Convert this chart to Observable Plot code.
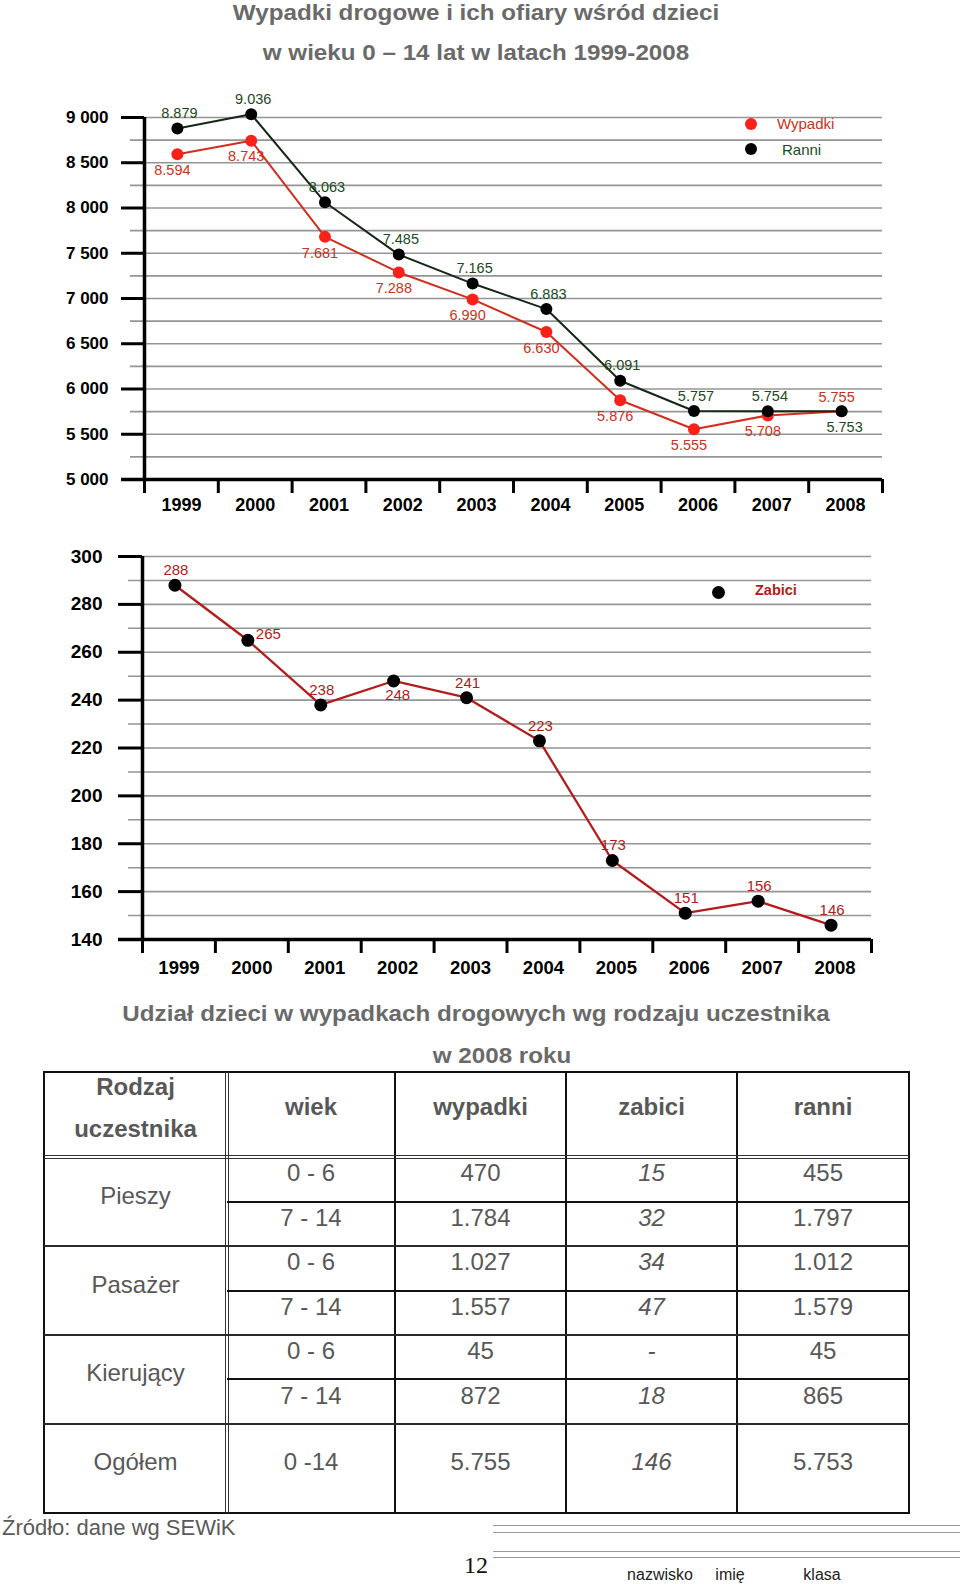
<!DOCTYPE html>
<html><head><meta charset="utf-8">
<script src="https://cdn.jsdelivr.net/npm/d3@7"></script>
<script src="https://cdn.jsdelivr.net/npm/@observablehq/plot@0.6"></script>
<style>
html,body{margin:0;padding:0;background:#fff;}
#page{position:relative;width:960px;height:1584px;overflow:hidden;font-family:"Liberation Sans",Arial,sans-serif;}
.abs{position:absolute;white-space:nowrap;}
.ln{position:absolute;}
</style></head><body><div id="page"></div>
<script>
// ---------- DATA ----------
const titleLines = ["Wypadki drogowe i ich ofiary wśród dzieci", "w wieku 0 – 14 lat w latach 1999-2008"];
const years = [1999, 2000, 2001, 2002, 2003, 2004, 2005, 2006, 2007, 2008];
const wypadki = [8594, 8743, 7681, 7288, 6990, 6630, 5876, 5555, 5708, 5755];
const ranni = [8879, 9036, 8063, 7485, 7165, 6883, 6091, 5757, 5754, 5753];
const zabici = [288, 265, 238, 248, 241, 223, 173, 151, 156, 146];
const seriesNames1 = ["Wypadki", "Ranni"];
const seriesName2 = "Zabici";
const yTicks1 = [5000, 5500, 6000, 6500, 7000, 7500, 8000, 8500, 9000];
const yTickLabels1 = ["5 000", "5 500", "6 000", "6 500", "7 000", "7 500", "8 000", "8 500", "9 000"];
const yTicks2 = [140, 160, 180, 200, 220, 240, 260, 280, 300];
const yTickLabels2 = ["140", "160", "180", "200", "220", "240", "260", "280", "300"];

const tableTitleLines = ["Udział dzieci w wypadkach drogowych wg rodzaju uczestnika", "w 2008 roku"];
const tableHeader = [["Rodzaj", "uczestnika"], ["wiek"], ["wypadki"], ["zabici"], ["ranni"]];
const participants = ["Pieszy", "Pasażer", "Kierujący"];
const ageGroups = ["0 - 6", "7 - 14", "0 - 6", "7 - 14", "0 - 6", "7 - 14"];
const tWypadki = ["470", "1.784", "1.027", "1.557", "45", "872"];
const tZabici = ["15", "32", "34", "47", "-", "18"];
const tRanni = ["455", "1.797", "1.012", "1.579", "45", "865"];
const totalRow = ["Ogółem", "0 -14", "5.755", "146", "5.753"];
const sourceText = "Źródło: dane wg SEWiK";
const pageNumber = "12";
const formLabels = ["nazwisko", "imię", "klasa"];

// label placement (style)
const ranniLabelBelow = [2008];
const wypadkiLabelAbove = [2008];
const zabiciLabelBelow = [2002];
const zabiciLabelRight = [2000];

// ---------- HELPERS ----------
const page = document.getElementById("page");
function txt(s, cx, cy, o = {}) {
  const {size = 16, weight = "normal", color = "#000", style = "normal", family = null, align = "center", sx = 1} = o;
  const d = document.createElement("div");
  d.className = "abs"; d.textContent = s;
  Object.assign(d.style, {left: cx + "px", top: cy + "px", fontSize: size + "px", lineHeight: (size + 2) + "px",
    fontWeight: weight, color, fontStyle: style});
  if (family) d.style.fontFamily = family;
  d.style.transformOrigin = align === "center" ? "center" : "left center";
  d.style.transform = `translate(${align === "center" ? "-50%" : "0"},-50%) scaleX(${sx})`;
  page.appendChild(d);
}
function hline(x1, x2, y, w, c) {
  const d = document.createElement("div"); d.className = "ln";
  Object.assign(d.style, {left: x1 + "px", top: (y - w / 2) + "px", width: (x2 - x1) + "px", height: w + "px", background: c});
  page.appendChild(d);
}
function vline(x, y1, y2, w, c) {
  const d = document.createElement("div"); d.className = "ln";
  Object.assign(d.style, {left: (x - w / 2) + "px", top: y1 + "px", width: w + "px", height: (y2 - y1) + "px", background: c});
  page.appendChild(d);
}
function dotDiv(cx, cy, r, c) {
  const d = document.createElement("div"); d.className = "ln";
  Object.assign(d.style, {left: (cx - r) + "px", top: (cy - r) + "px", width: 2 * r + "px", height: 2 * r + "px", borderRadius: "50%", background: c});
  page.appendChild(d);
}
function place(el, left, top) {
  el.style.position = "absolute"; el.style.left = left + "px"; el.style.top = top + "px";
  page.appendChild(el);
}

// ---------- TITLE ----------
txt(titleLines[0], 476, 13, {size: 22, weight: "bold", color: "#6a6a6a", sx: 1.1});
txt(titleLines[1], 476, 53, {size: 22, weight: "bold", color: "#6a6a6a", sx: 1.1});

// ---------- CHART 1 ----------
const rows1 = years.map((year, i) => ({year, wypadki: wypadki[i], ranni: ranni[i]}));
const fmtK = v => (v / 1000).toFixed(3);
const lab1 = new Map(yTicks1.map((t, i) => [t, yTickLabels1[i]]));
const bounds = d3.range(1998.5, 2009, 1);
const C_W_LINE = "#d22e1e", C_W_DOT = "#fb2119", C_W_TXT = "#c93220";
const C_R_LINE = "#142814", C_R_TXT = "#1c4a22";
const GRID = "#959595";
const DX = -4;

const chart1 = Plot.plot({
  width: 960, height: 440,
  marginTop: 37, marginBottom: 41, marginLeft: 144, marginRight: 78,
  x: {domain: [1998.5, 2008.5], axis: null},
  y: {domain: [5000, 9000], axis: null},
  style: {fontFamily: "'Liberation Sans', Arial, sans-serif", background: "transparent", overflow: "visible"},
  marks: [
    Plot.ruleY(d3.range(5000, 9001, 250), {stroke: GRID, strokeWidth: 1.6, insetLeft: -14}),
    Plot.axisY({ticks: yTicks1, label: null, tickSize: 23, tickPadding: 13, tickFormat: d => lab1.get(d),
      fontSize: 17, fontWeight: "bold", color: "#000", strokeWidth: 3}),
    Plot.ruleY([5000], {stroke: "#000", strokeWidth: 3.5, insetLeft: -23}),
    Plot.ruleX([1998.5], {stroke: "#000", strokeWidth: 3.5}),
    Plot.axisX({ticks: bounds, label: null, tickSize: 14, tickFormat: () => "", color: "#000", strokeWidth: 3}),
    Plot.axisX({ticks: years, label: null, tickSize: 0, tickPadding: 19, tickFormat: d => String(d),
      fontSize: 18, fontWeight: "bold", color: "#000"}),
    Plot.line(rows1, {x: "year", y: "wypadki", stroke: C_W_LINE, strokeWidth: 2, dx: DX}),
    Plot.line(rows1, {x: "year", y: "ranni", stroke: C_R_LINE, strokeWidth: 2, dx: DX}),
    Plot.dot(rows1, {x: "year", y: "wypadki", r: 6, fill: C_W_DOT, dx: DX}),
    Plot.dot(rows1, {x: "year", y: "ranni", r: 6, fill: "#000", dx: DX}),
    Plot.text(rows1.filter(d => !ranniLabelBelow.includes(d.year)), {x: "year", y: "ranni", text: d => fmtK(d.ranni),
      dy: -15, dx: DX + 2, fill: C_R_TXT, fontSize: 14.5}),
    Plot.text(rows1.filter(d => ranniLabelBelow.includes(d.year)), {x: "year", y: "ranni", text: d => fmtK(d.ranni),
      dy: 16, dx: DX + 3, fill: C_R_TXT, fontSize: 14.5}),
    Plot.text(rows1.filter(d => !wypadkiLabelAbove.includes(d.year)), {x: "year", y: "wypadki", text: d => fmtK(d.wypadki),
      dy: 16, dx: DX - 5, fill: C_W_TXT, fontSize: 14.5}),
    Plot.text(rows1.filter(d => wypadkiLabelAbove.includes(d.year)), {x: "year", y: "wypadki", text: d => fmtK(d.wypadki),
      dy: -14, dx: DX - 5, fill: C_W_TXT, fontSize: 14.5})
  ]
});
place(chart1, 0, 80);

// legend chart 1
dotDiv(751, 124, 6, C_W_DOT);
txt(seriesNames1[0], 777, 123, {size: 15, color: C_W_TXT, align: "left"});
dotDiv(751, 149, 6, "#000");
txt(seriesNames1[1], 782, 149, {size: 15, color: C_R_TXT, align: "left"});

// ---------- CHART 2 ----------
const rows2 = years.map((year, i) => ({year, zabici: zabici[i]}));
const C_Z_LINE = "#b41c1c", C_Z_TXT = "#b31a1a";
const chart2 = Plot.plot({
  width: 960, height: 450,
  marginTop: 26, marginBottom: 41, marginLeft: 142, marginRight: 89,
  x: {domain: [1998.5, 2008.5], axis: null},
  y: {domain: [140, 300], axis: null},
  style: {fontFamily: "'Liberation Sans', Arial, sans-serif", background: "transparent", overflow: "visible"},
  marks: [
    Plot.ruleY(d3.range(140, 301, 10), {stroke: GRID, strokeWidth: 1.6, insetLeft: -14}),
    Plot.axisY({ticks: yTicks2, label: null, tickSize: 24, tickPadding: 16, tickFormat: d => yTickLabels2[yTicks2.indexOf(d)],
      fontSize: 19, fontWeight: "bold", color: "#000", strokeWidth: 3}),
    Plot.ruleY([140], {stroke: "#000", strokeWidth: 3.5, insetLeft: -24}),
    Plot.ruleX([1998.5], {stroke: "#000", strokeWidth: 3.5}),
    Plot.axisX({ticks: bounds, label: null, tickSize: 14, tickFormat: () => "", color: "#000", strokeWidth: 3}),
    Plot.axisX({ticks: years, label: null, tickSize: 0, tickPadding: 21, tickFormat: d => String(d),
      fontSize: 18.5, fontWeight: "bold", color: "#000"}),
    Plot.line(rows2, {x: "year", y: "zabici", stroke: C_Z_LINE, strokeWidth: 2.3, dx: DX}),
    Plot.dot(rows2, {x: "year", y: "zabici", r: 6.5, fill: "#000", dx: DX}),
    Plot.text(rows2.filter(d => !zabiciLabelBelow.includes(d.year) && !zabiciLabelRight.includes(d.year)),
      {x: "year", y: "zabici", text: d => String(d.zabici), dy: -15, dx: DX + 1, fill: C_Z_TXT, fontSize: 15}),
    Plot.text(rows2.filter(d => zabiciLabelBelow.includes(d.year)),
      {x: "year", y: "zabici", text: d => String(d.zabici), dy: 14, dx: DX + 4, fill: C_Z_TXT, fontSize: 15}),
    Plot.text(rows2.filter(d => zabiciLabelRight.includes(d.year)),
      {x: "year", y: "zabici", text: d => String(d.zabici), dy: -6, dx: DX + 8, textAnchor: "start", fill: C_Z_TXT, fontSize: 15})
  ]
});
place(chart2, 0, 530);

// legend chart 2
dotDiv(718, 592, 6.5, "#000");
txt(seriesName2, 755, 590, {size: 14.5, weight: "bold", color: C_Z_TXT, align: "left"});

// ---------- TABLE ----------
txt(tableTitleLines[0], 476, 1014, {size: 22, weight: "bold", color: "#6a6a6a", sx: 1.1});
txt(tableTitleLines[1], 502, 1056, {size: 22, weight: "bold", color: "#6a6a6a", sx: 1.1});

const colX = [44, 227, 395, 566, 737, 909];
const rowY = [1072, 1157, 1202, 1246, 1291, 1335, 1379, 1424, 1513];
const colC = colX.slice(0, 5).map((x, i) => (x + colX[i + 1]) / 2);
const TC = "#585858";

// outer border
hline(colX[0] - 1, colX[5] + 1, rowY[0], 2.5, "#111");
hline(colX[0] - 1, colX[5] + 1, rowY[8], 2.5, "#111");
vline(colX[0], rowY[0], rowY[8], 2.5, "#111");
vline(colX[5], rowY[0], rowY[8], 2.5, "#111");
// column separators
vline(colX[1] - 1.5, rowY[0], rowY[8], 1.2, "#333");
vline(colX[1] + 1.5, rowY[0], rowY[8], 1.2, "#333");
[2, 3, 4].forEach(i => vline(colX[i], rowY[0], rowY[8], 2.2, "#111"));
// header bottom (double)
hline(colX[0], colX[5], rowY[1] - 1.5, 1.2, "#333");
hline(colX[0], colX[5], rowY[1] + 1.5, 1.2, "#333");
// group separators
[3, 5, 7].forEach(i => hline(colX[0], colX[5], rowY[i], 2.2, "#2a2a2a"));
// within group separators
[2, 4, 6].forEach(i => hline(colX[1], colX[5], rowY[i], 2.2, "#111"));

// header text
txt(tableHeader[0][0], colC[0], 1087, {size: 24, weight: "bold", color: TC});
txt(tableHeader[0][1], colC[0], 1129, {size: 24, weight: "bold", color: TC});
for (let c = 1; c < 5; c++) txt(tableHeader[c][0], colC[c], 1107, {size: 24, weight: "bold", color: TC});

// body
const bodyY = [1173, 1218, 1262, 1307, 1351, 1396];
const groupY = [1196, 1285, 1373];
participants.forEach((p, i) => txt(p, colC[0], groupY[i], {size: 24, color: TC}));
ageGroups.forEach((a, i) => {
  txt(a, colC[1], bodyY[i], {size: 24, color: TC});
  txt(tWypadki[i], colC[2], bodyY[i], {size: 24, color: TC});
  txt(tZabici[i], colC[3], bodyY[i], {size: 24, color: TC, style: "italic"});
  txt(tRanni[i], colC[4], bodyY[i], {size: 24, color: TC});
});
totalRow.forEach((v, c) => txt(v, colC[c], 1462, {size: 24, color: TC, style: c === 3 ? "italic" : "normal"}));

// ---------- FOOTER ----------
txt(sourceText, 2, 1528, {size: 22, color: "#5a5a5a", align: "left"});
[1525, 1532, 1551, 1557].forEach(y => hline(493, 960, y, 1, "#9a9a9a"));
txt(pageNumber, 476, 1565, {size: 24, color: "#111", family: "'Liberation Serif', 'Times New Roman', serif"});
txt(formLabels[0], 660, 1575, {size: 16, color: "#222"});
txt(formLabels[1], 730, 1575, {size: 16, color: "#222"});
txt(formLabels[2], 822, 1575, {size: 16, color: "#222"});
</script></body></html>
